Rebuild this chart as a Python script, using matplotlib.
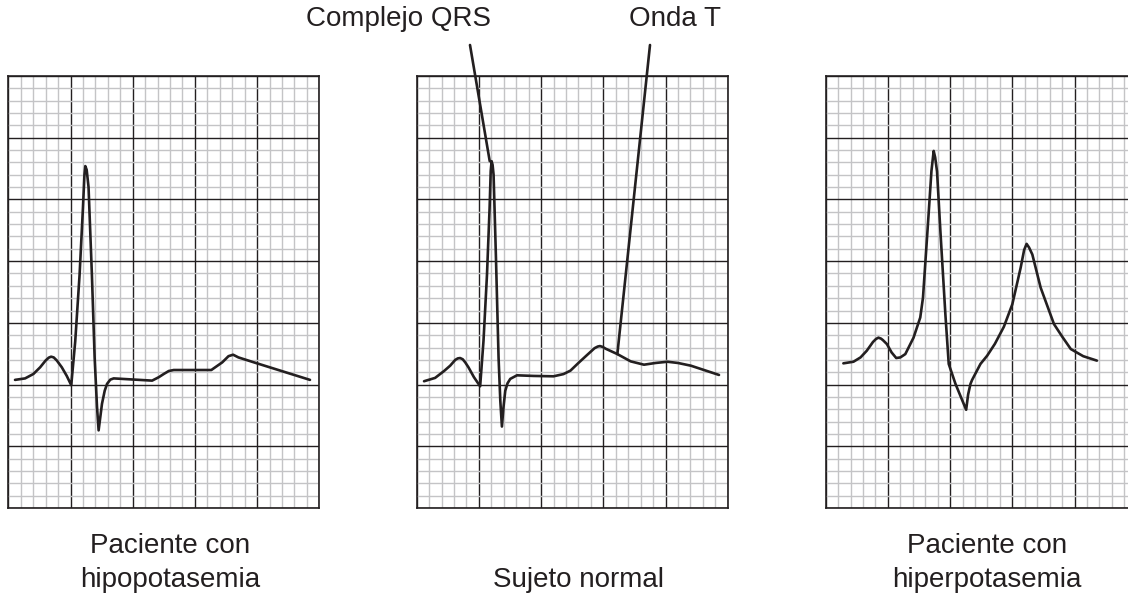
import matplotlib
matplotlib.use("Agg")
import matplotlib.pyplot as plt
from matplotlib.ticker import MultipleLocator

plt.rcParams['font.family'] = ['Liberation Sans', 'DejaVu Sans']

# trazados (x, y en mm de papel)
hipo_x = [0.54, 1.35, 2.02, 2.56, 3.0, 3.25, 3.44, 3.65, 3.9, 4.3, 4.7, 5.06, 5.38, 5.73, 6.0, 6.12, 6.19, 6.3,
          6.45, 6.72, 6.94, 7.13, 7.26, 7.4, 7.53, 7.75, 7.94, 8.2, 8.47, 11.56, 12.1, 12.5, 12.9, 13.3,
          16.32, 17.2, 17.7, 18.07, 18.5, 19.9, 24.25]
hipo_y = [10.38, 10.5, 10.86, 11.4, 11.95, 12.18, 12.26, 12.2, 11.95, 11.4, 10.7, 9.95, 13.5, 18.9, 24.3, 27.0, 27.7, 27.4,
          26.0, 18.9, 12.2, 8.2, 6.29, 7.4, 8.44, 9.5, 10.06, 10.4, 10.5, 10.32, 10.6, 10.86, 11.1, 11.18,
          11.18, 11.8, 12.3, 12.42, 12.2, 11.75, 10.38]

normal_x = [0.59, 1.48, 2.2, 2.69, 3.1, 3.3, 3.49, 3.7, 3.9, 4.16, 4.6, 5.1, 5.37, 5.65, 5.86, 5.95, 6.02, 6.1,
            6.18, 6.37, 6.58, 6.72, 6.85, 6.98, 7.12, 7.3, 7.52, 8.06, 9.4, 11.0, 11.8, 12.36, 13.0,
            13.7, 14.3, 14.55, 14.73, 14.95, 15.2, 16.13, 17.2, 18.27, 19.2, 20.16, 21.0, 22.04, 24.3]
normal_y = [10.27, 10.54, 11.1, 11.53, 12.0, 12.12, 12.15, 12.05, 11.8, 11.4, 10.6, 9.86, 13.55, 18.9, 24.3, 27.3, 28.1, 27.8,
            27.0, 20.3, 12.2, 8.7, 6.6, 8.2, 9.5, 10.1, 10.46, 10.75, 10.7, 10.67, 10.85, 11.13, 11.75,
            12.4, 12.95, 13.08, 13.12, 13.05, 12.9, 12.47, 11.88, 11.61, 11.75, 11.85, 11.75, 11.53, 10.78]

hiper_x = [1.42, 2.23, 2.8, 3.3, 3.8, 4.05, 4.24, 4.45, 4.6, 4.92, 5.3, 5.67, 6.0, 6.4, 7.06, 7.6, 7.82, 8.0,
           8.27, 8.5, 8.68, 8.8, 8.95, 9.22, 9.62, 9.89, 10.43, 11.29, 11.45, 11.64, 11.77, 12.44,
           12.98, 13.6, 14.32, 15.0, 15.67, 15.95, 16.15, 16.35, 16.61, 17.28, 18.35, 19.0, 19.7,
           20.7, 21.8]
hiper_y = [11.72, 11.85, 12.2, 12.74, 13.45, 13.7, 13.8, 13.72, 13.6, 13.28, 12.6, 12.15, 12.2, 12.47, 13.8, 15.43, 17.04, 19.73,
           23.77, 27.3, 28.93, 28.4, 27.26, 22.42, 15.7, 11.67, 10.06, 7.96, 9.2, 10.06, 10.38, 11.67,
           12.34, 13.3, 14.68, 16.5, 19.46, 20.9, 21.4, 21.1, 20.54, 17.85, 14.9, 13.9, 12.88,
           12.3, 11.94]

etiquetas = [["Paciente con", "hipopotasemia"], ["Sujeto normal"], ["Paciente con", "hiperpotasemia"]]
trazos = [(hipo_x, hipo_y), (normal_x, normal_y), (hiper_x, hiper_y)]

W, H = 1128, 599
fig = plt.figure(figsize=(W / 100, H / 100), dpi=100)
lefts = [8.3, 416.7, 825.7]  # borde izquierdo de cada papel, px
ink = '#231f20'

axes = []
for i, (xs, ys) in enumerate(trazos):
    ax = fig.add_axes([lefts[i] / W, (H - 508) / H, 311 / W, 432 / H])
    ax.set_xlim(0, 25)
    ax.set_ylim(0, 35)
    ax.xaxis.set_major_locator(MultipleLocator(5))
    ax.yaxis.set_major_locator(MultipleLocator(5))
    ax.xaxis.set_minor_locator(MultipleLocator(1))
    ax.yaxis.set_minor_locator(MultipleLocator(1))
    ax.grid(which='minor', color='#c4c4c6', lw=1.0)
    ax.grid(which='major', color=ink, lw=1.0)
    ax.set_axisbelow(True)
    ax.tick_params(which='both', length=0, labelbottom=False, labelleft=False)
    for s in ax.spines.values():
        s.set_color(ink)
        s.set_linewidth(1.2)
    ax.plot(xs, ys, color=ink, lw=1.9, solid_joinstyle='round', solid_capstyle='round', zorder=5)
    # etiqueta inferior
    cx = (lefts[i] + 155.5 + 6) / W
    lines = etiquetas[i]
    if len(lines) == 2:
        fig.text(cx, 1 - 546 / H, lines[0], ha='center', va='center', fontsize=20, color=ink)
        fig.text(cx, 1 - 580 / H, lines[1], ha='center', va='center', fontsize=20, color=ink)
    else:
        fig.text(cx, 1 - 580 / H, lines[0], ha='center', va='center', fontsize=20, color=ink)
    axes.append(ax)

# rotulos del trazo normal
ax2 = axes[1]
ir = normal_y.index(max(normal_y))
ax2.annotate('', xy=(normal_x[ir] - 0.15, normal_y[ir]), xytext=(470, H - 45),
             textcoords='figure pixels',
             arrowprops=dict(arrowstyle='-', color=ink, lw=1.9, shrinkA=0, shrinkB=0))
it = normal_x.index(16.13)
ax2.annotate('', xy=(normal_x[it], normal_y[it]), xytext=(650, H - 45),
             textcoords='figure pixels',
             arrowprops=dict(arrowstyle='-', color=ink, lw=1.9, shrinkA=0, shrinkB=0))
fig.text(398 / W, 1 - 19 / H, "Complejo QRS", ha='center', va='center', fontsize=20, color=ink)
fig.text(675 / W, 1 - 19 / H, "Onda T", ha='center', va='center', fontsize=20, color=ink)

fig.savefig('out.png', dpi=100)
